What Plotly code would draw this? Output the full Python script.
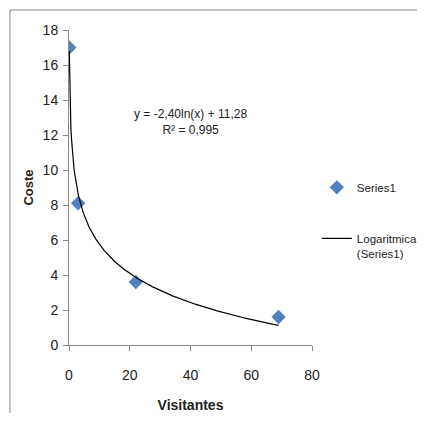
import numpy as np
import plotly.graph_objects as go

# data
visitantes = [0.1, 3, 22, 69]
coste = [17.0, 8.1, 3.6, 1.6]

# trendline coefficients shown on the chart: y = a*ln(x) + b
coef_a = -2.40
coef_b = 11.28
r2 = 0.995

x_ticks = [0, 20, 40, 60, 80]
y_ticks = [0, 2, 4, 6, 8, 10, 12, 14, 16, 18]

sans = "Liberation Sans, Arial, sans-serif"

xt = np.linspace(min(visitantes), max(visitantes), 400)
yt = coef_a * np.log(xt) + coef_b

fig = go.Figure()
fig.add_trace(go.Scatter(
    x=visitantes, y=coste, mode="markers", name="Series1", legendgroup="a",
    marker=dict(symbol="diamond", size=11, color="#4F81BD"),
))
fig.add_trace(go.Scatter(
    x=xt, y=yt, mode="lines", name="Logaritmica<br>(Series1)", legendgroup="b",
    line=dict(color="black", width=1.2),
))

# the page body has an 8px margin, so the figure is kept smaller than the window
fig.update_layout(
    width=409, height=405,
    margin=dict(l=61, r=105, t=22, b=68, autoexpand=False),
    paper_bgcolor="white", plot_bgcolor="white",
    font=dict(family=sans, size=14, color="#222"),
    legend=dict(x=1.02, y=0.545, xanchor="left", yanchor="top", valign="top",
                font=dict(family=sans, size=11.5, color="#222"),
                tracegroupgap=32, itemwidth=30),
    annotations=[dict(
        x=0.50, y=0.708, xref="paper", yref="paper", showarrow=False,
        xanchor="center", yanchor="middle",
        text="y = %sln(x) + %s<br>R² = %s" % (
            ("%.2f" % coef_a).replace(".", ","),
            ("%.2f" % coef_b).replace(".", ","),
            ("%.3f" % r2).replace(".", ",")),
        font=dict(family=sans, size=12, color="#222"),
    )],
    shapes=[
        dict(type="line", xref="paper", yref="paper", x0=-0.243, x1=1.5, y0=1.0635, y1=1.0635,
             line=dict(color="#888", width=1)),
        dict(type="line", xref="paper", yref="paper", x0=-0.243, x1=-0.243, y0=1.0635, y1=-0.4,
             line=dict(color="#888", width=1)),
    ],
)
fig.update_xaxes(
    range=[0, 80], tickvals=x_ticks, showgrid=False, zeroline=False,
    showline=True, linecolor="#888", linewidth=1,
    ticks="outside", ticklen=5, tickcolor="#888", automargin=False,
    ticklabelstandoff=12,
    title=dict(text="<b>Visitantes</b>", font=dict(family=sans, size=14, color="#222"), standoff=18),
)
fig.update_yaxes(
    range=[0, 18], tickvals=y_ticks, showgrid=False, zeroline=False,
    showline=True, linecolor="#888", linewidth=1,
    ticks="outside", ticklen=5, tickcolor="#888", automargin=False,
    ticklabelstandoff=2,
    title=dict(text="<b>Coste</b>", font=dict(family=sans, size=13, color="#222"), standoff=6),
)

fig.write_html("out.html")
